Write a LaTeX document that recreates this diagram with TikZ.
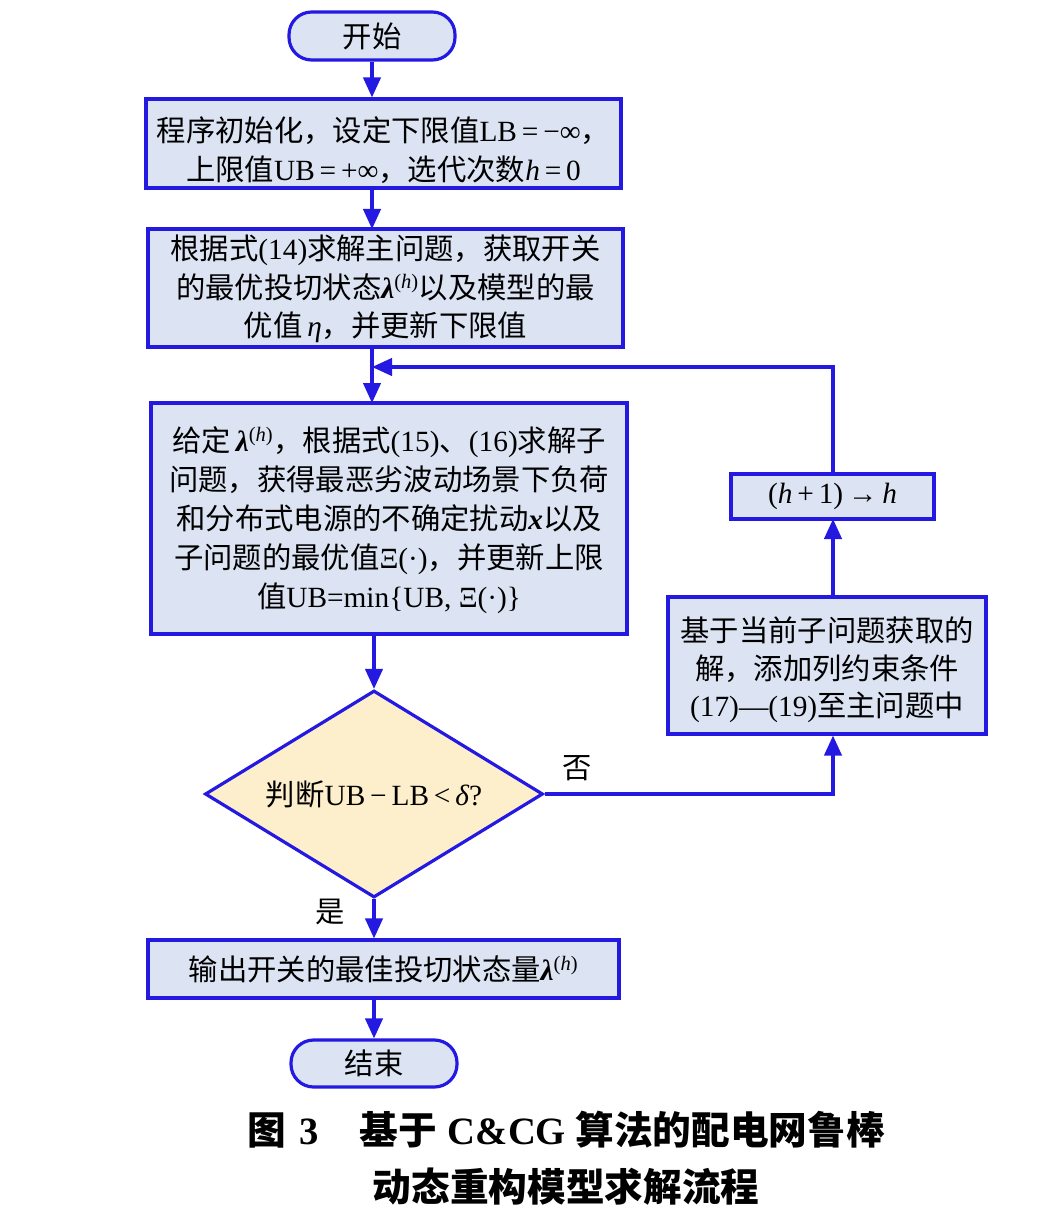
\documentclass[tikz,border=0pt]{standalone}
\usepackage{fontspec}
\setmainfont{Noto Sans CJK SC}
\newfontfamily\lat{Liberation Serif}
\usetikzlibrary{arrows.meta,shapes.geometric}
\definecolor{lineblue}{RGB}{35,25,225}
\definecolor{boxfill}{RGB}{220,228,243}
\definecolor{diafill}{RGB}{253,239,203}
\newcommand{\lt}[1]{{\lat #1}}
\newcommand{\ih}{{\lat\itshape h}}
\newcommand{\lamh}{{\lat\bfseries\itshape λ}{\lat\textsuperscript{(\itshape h\upshape)}}}
% #1 = drop of last baseline below centre, #2 = baselineskip, #3 = lines
\newcommand{\blk}[3]{\raisebox{-#1}[0pt][0pt]{\fontsize{22pt}{#2}\selectfont\begin{tabular}[b]{@{}c@{}}#3\end{tabular}}}
\tikzset{
  flow/.style={draw=lineblue, line width=2.4pt},
  box/.style={flow, fill=boxfill, rectangle, align=center, inner sep=0pt,
    font=\fontsize{22pt}{29.2pt}\selectfont},
  term/.style={flow, fill=boxfill, rectangle, rounded corners=17pt, inner sep=0pt,
    font=\fontsize{22pt}{29pt}\selectfont},
  arr/.style={draw=lineblue, line width=2.4pt, -{Triangle[length=15pt,width=13pt]}},
  lab/.style={font=\fontsize{22pt}{26pt}\selectfont, inner sep=0pt},
  captxt/.style={font=\fontsize{29pt}{34pt}\selectfont\bfseries, inner sep=0pt},
}
\begin{document}
\begin{tikzpicture}[x=0.75pt,y=-0.75pt]
\useasboundingbox (0,0) rectangle (1062,1223);
\node[term, minimum width=124.5pt, minimum height=36pt] (start) at (372,36) {开始};
\node[box, minimum width=356.25pt, minimum height=66.75pt] (b1) at (383.5,143.5)
  {\blk{28.1pt}{29.25pt}{程序初始化，设定下限值\lt{LB\,=\,−∞}，\\上限值\lt{UB\,=\,+∞}，选代次数\ih\,\lt{=\,0}}};
\node[box, minimum width=356.25pt, minimum height=88.5pt] (b2) at (385.5,288)
  {\blk{36.5pt}{28.9pt}{根据式\lt{(14)}求解主问题，获取开关\\的最优投切状态\lamh 以及模型的最\\优值\,{\lat\itshape η}，并更新下限值}};
\node[box, minimum width=357pt, minimum height=173.25pt] (b3) at (389,518.5)
  {\blk{67.1pt}{29.4pt}{给定\,\lamh，根据式\lt{(15)}、\lt{(16)}求解子\\问题，获得最恶劣波动场景下负荷\\和分布式电源的不确定扰动{\lat\bfseries\itshape x}以及\\子问题的最优值\lt{Ξ(·)}，并更新上限\\值\lt{UB=min\{UB, Ξ(·)\}}}};
\node[flow, fill=diafill, diamond, shape aspect=1.633, minimum width=253.5pt, minimum height=155.25pt,
  inner sep=0pt, font=\fontsize{22pt}{26pt}\selectfont] (dec) at (374,794)
  {判断\lt{UB\,−\,LB\,<\,{\itshape δ}?}};
\node[box, minimum width=353.25pt, minimum height=43.5pt] (out) at (383.5,969)
  {输出开关的最佳投切状态量\lamh};
\node[term, minimum width=124.5pt, minimum height=35.25pt] (end) at (374,1063.5) {结束};
\node[box, minimum width=238.5pt, minimum height=102.75pt] (rb) at (827,665.5)
  {\blk{38.25pt}{28.1pt}{基于当前子问题获取的\\解，添加列约束条件\\\lt{(17)—(19)}至主问题中}};
\node[box, minimum width=152.25pt, minimum height=33.75pt] (sb) at (832.5,496.5)
  {\lt{(\itshape h\upshape\,+\,1)\,→\,\itshape h}};
\node[lab] (no) at (577,768) {否};
\node[lab] (yes) at (330,912) {是};
\coordinate (loop) at (833,367);
\coordinate (merge) at (372,367);
\draw[arr] (start.south) -- (start.south |- b1.north);
\draw[arr] (372,188) -- (372,229);
\draw[arr] (372,347) -- (372,403);
\draw[arr] (374,634) -- (dec.north);
\draw[arr] (dec.south) -- (dec.south |- out.north);
\draw[arr] (374,998) -- (end.north);
\draw[arr] (dec.east) -| (rb.south -| 833,0);
\draw[arr] (833,597) -- (833,519);
\draw[arr] (sb.north -| loop) -- (loop) -- (merge);
\node[captxt] (cap1) at (566,1130)
  {图\hspace{10pt}\lt{\bfseries 3}\hspace{31pt}基于\hspace{8pt}\lt{\bfseries C\&CG}\hspace{7pt}算法的配电网鲁棒};
\node[captxt] (cap2) at (566,1187) {动态重构模型求解流程};
\end{tikzpicture}
\end{document}
